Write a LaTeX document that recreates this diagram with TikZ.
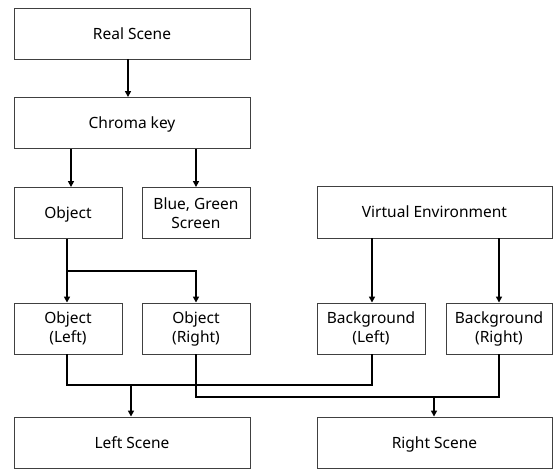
\documentclass[tikz,border=0pt]{standalone}
\usepackage{fontspec}
\setmainfont{Noto Sans}
\usetikzlibrary{arrows.meta,calc}
\begin{document}
\begin{tikzpicture}[x=1pt,y=-1pt,
  box/.style={draw=black!75,line width=0.9pt,rectangle,inner sep=0pt,align=center,font=\fontsize{15.5}{19}\selectfont},
  one/.style={text height=13pt,text depth=2pt},
  wide/.style={box,minimum width=236pt,minimum height=51pt},
  small/.style={box,minimum width=108pt,minimum height=51pt},
  conn/.style={line width=1.5pt,black},
  arr/.style={conn,-{Triangle[length=6pt,width=6pt]}}]
\useasboundingbox (0,0) rectangle (553,469);
\node[wide,one] (rs) at (132,33.5) {Real Scene};
\node[wide,one] (ck) at (132,123) {Chroma key};
\node[small,one] (obj) at (68,213) {Object};
\node[small] (bgs) at (196,213) {Blue, Green\\Screen};
\node[box,one,minimum width=235pt,minimum height=52pt] (ve) at (434.5,212) {Virtual Environment};
\node[small] (ol) at (68,328.5) {Object\\(Left)};
\node[small] (or) at (196,328.5) {Object\\(Right)};
\node[small] (bl) at (371,328.5) {Background\\(Left)};
\node[box,minimum width=106pt,minimum height=51pt] (br) at (499,328.5) {Background\\(Right)};
\node[wide,one] (ls) at (132,442.5) {Left Scene};
\node[box,one,minimum width=235pt,minimum height=51pt] (rsc) at (434.5,442.5) {Right Scene};
% junction points
\coordinate (j1) at (67,271);
\coordinate (j2) at (131,385);
\coordinate (j3) at (434,397);
% connectors
\draw[arr] ([xshift=-4pt]rs.south) -- ([xshift=-4pt]ck.north);
\draw[arr] (ck.south -| 71,0) -- (obj.north -| 71,0);
\draw[arr] (ck.south -| bgs) -- (bgs.north);
\draw[conn] (obj.south -| j1) -- (j1);
\draw[arr] (j1) -- (ol.north -| j1);
\draw[arr] (j1) -- (j1 -| or) -- (or.north);
\draw[arr] (ve.south -| 372,0) -- (bl.north -| 372,0);
\draw[arr] (ve.south -| br) -- (br.north);
\draw[conn] (ol.south -| j1) |- (j2) -| (bl.south -| 372,0);
\draw[conn] (or.south) |- (j3) -| (br.south);
\draw[arr] (j2) -- (ls.north -| j2);
\draw[arr] (j3) -- (rsc.north -| j3);
\end{tikzpicture}
\end{document}
